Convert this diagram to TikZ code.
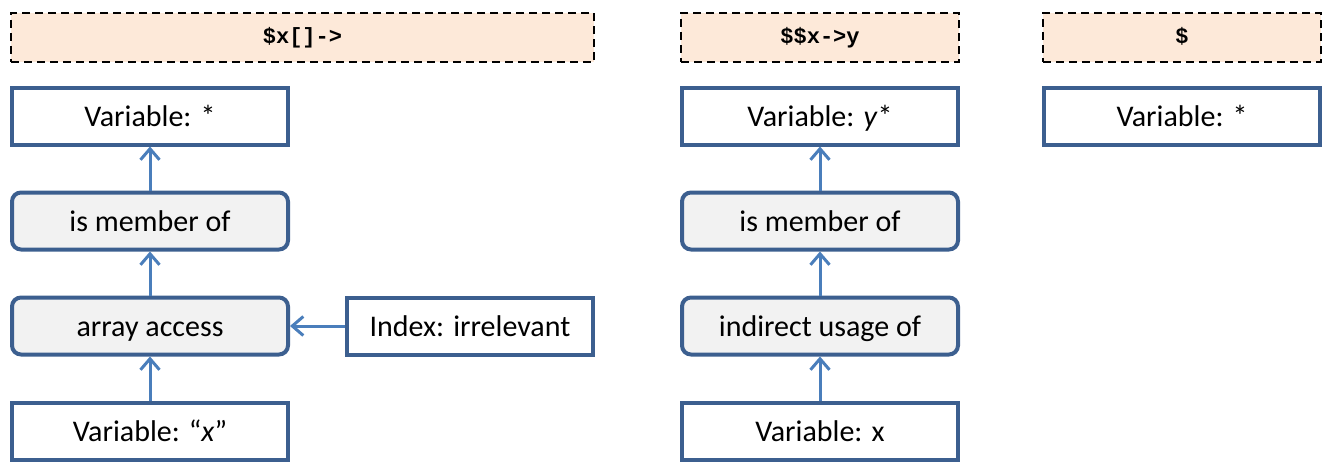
\documentclass[tikz,border=0pt]{standalone}
\usepackage{fontspec}
\setmainfont{Carlito}
\newfontfamily\codefont{Liberation Mono}
\usetikzlibrary{arrows.meta, positioning}

\definecolor{boxblue}{HTML}{3C5F8F}
\definecolor{arrowblue}{HTML}{4A7EBB}
\definecolor{headfill}{HTML}{FDE9D9}
\definecolor{opfill}{HTML}{F2F2F2}

\begin{document}
\begin{tikzpicture}[
    x=1pt, y=-1pt,
    node distance=44pt and 55pt,
    font=\fontsize{30}{34}\selectfont,
    varnode/.style={rectangle, draw=boxblue, line width=4pt, fill=white, text centered, minimum width=276pt, minimum height=57pt, inner sep=4pt, text height=22pt, text depth=2pt},
    opnode/.style={varnode, rounded corners=9pt, fill=opfill},
    headnode/.style={rectangle, draw=black, dashed, dash pattern=on 8pt off 5pt, line width=2pt, fill=headfill, minimum height=49pt, text height=14pt, text depth=2pt, font=\codefont\bfseries\fontsize{22}{26}\selectfont},
    link/.style={-{Straight Barb[length=11pt, width=19pt, line width=3pt]}, draw=arrowblue, line width=3pt}
  ]
  \useasboundingbox (0,0) rectangle (1331,463);

  % Pattern headers
  \node[headnode, minimum width=583pt] (head1) at (302.5,37.5) {\$x[]->};
  \node[headnode, minimum width=278pt] (head2) at (820,37.5) {\$\$x->y};
  \node[headnode, minimum width=278pt] (head3) at (1182,37.5) {\$};

  % First chain
  \node[varnode] (star1) at (150,116) {Variable: *};
  \node[opnode, below=of star1] (member1) {is member of};
  \node[opnode, below=of member1] (access1) {array access};
  \node[varnode, below=of access1] (varx1) {Variable: “\textit{x}”};
  \node[varnode, right=of access1, minimum width=246pt] (index1) {Index: irrelevant};

  \draw[link] (member1) -- (star1);
  \draw[link] (access1) -- (member1);
  \draw[link] (varx1) -- (access1);
  \draw[link] (index1) -- (access1);

  % Second chain
  \node[varnode] (star2) at (820,116) {Variable: \textit{y}*};
  \node[opnode, below=of star2] (member2) {is member of};
  \node[opnode, below=of member2] (indirect2) {indirect usage of};
  \node[varnode, below=of indirect2] (varx2) {Variable: x};

  \draw[link] (member2) -- (star2);
  \draw[link] (indirect2) -- (member2);
  \draw[link] (varx2) -- (indirect2);

  % Third pattern
  \node[varnode] (star3) at (1182,116) {Variable: *};

\end{tikzpicture}
\end{document}
